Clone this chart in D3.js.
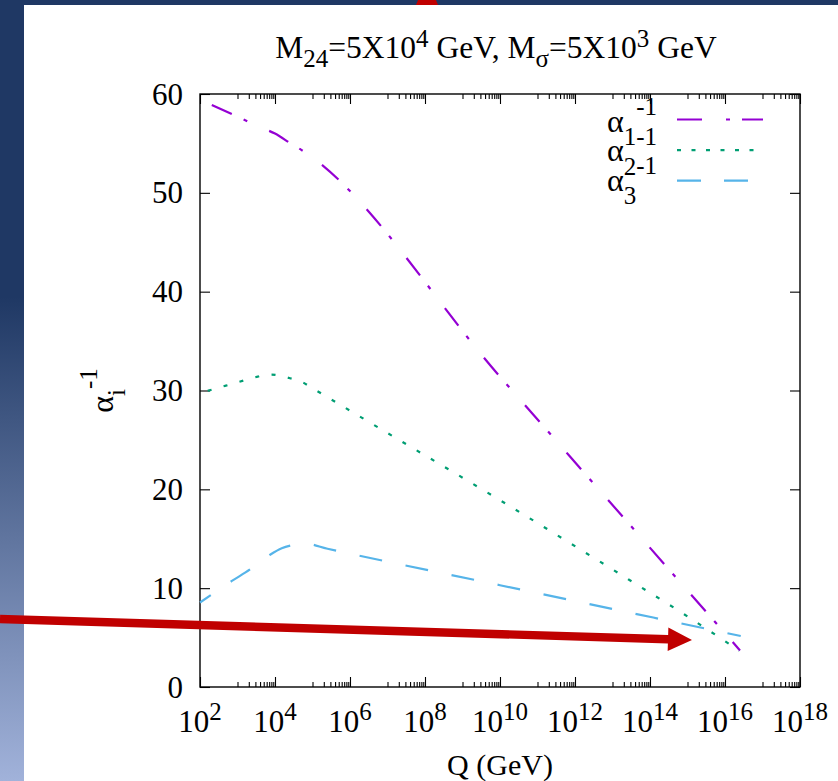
<!DOCTYPE html>
<html>
<head>
<meta charset="utf-8">
<script src="https://cdn.jsdelivr.net/npm/d3@7"></script>
<style>
  body { margin: 0; background: #fff; }
  svg { display: block; }
  text { font-family: "Liberation Serif", "Times New Roman", serif; fill: #000; }
</style>
</head>
<body>
<svg id="chart"></svg>
<script>
// Q is kept as its exponent: Q = 10^e GeV
const alpha1Exp = [2.0, 3.0, 3.7, 4.0, 4.44, 4.7, 10, 16.4];
const alpha1Inv = [59.45, 57.7, 56.5, 56.0, 54.94, 54.35, 31.4, 3.7];

const alpha2Exp = [2.0, 2.69, 3.54, 3.7, 3.9, 4.4, 4.7, 5.02, 6.91, 10, 13.42, 14.91, 16.38];
const alpha2Inv = [29.75, 30.49, 31.4, 31.55, 31.6, 31.24, 30.9, 30.18, 25.9, 18.9, 10.9, 7.36, 3.67];

const alpha3Exp = [2.0, 2.85, 3.36, 3.7, 3.89, 4.18, 4.5, 4.75, 5.4, 10, 16.42];
const alpha3Inv = [8.55, 10.73, 11.97, 12.95, 13.43, 14.03, 14.38, 14.54, 13.99, 10.3, 5.16];

const seriesIndex = ["1", "2", "3"];
const xTickExp = [2, 4, 6, 8, 10, 12, 14, 16, 18];
const yTicks = [0, 10, 20, 30, 40, 50, 60];

const width = 838, height = 781;
const plotL = 200, plotR = 800, plotT = 94, plotB = 687;

const svg = d3.select("#chart")
    .attr("width", width)
    .attr("height", height);

// slide background: navy strip on top, gradient strip on the left
const grad = svg.append("defs").append("linearGradient")
    .attr("id", "strip")
    .attr("x1", 0).attr("y1", 0).attr("x2", 0).attr("y2", 1);
grad.append("stop").attr("offset", 0).attr("stop-color", "#1f3864");
grad.append("stop").attr("offset", 0.38).attr("stop-color", "#1f3864");
grad.append("stop").attr("offset", 1).attr("stop-color", "#a1b2da");

svg.append("rect").attr("width", width).attr("height", height).attr("fill", "#fff");
svg.append("rect").attr("width", 24).attr("height", height).attr("fill", "url(#strip)");
svg.append("rect").attr("width", width).attr("height", 5).attr("fill", "#1f3864");
svg.append("path")
    .attr("d", "M418,0L436,0L438,5L416,5Z")
    .attr("fill", "#c00000");

const x = d3.scaleLog().domain([1e2, 1e18]).range([plotL, plotR]);
const y = d3.scaleLinear().domain([0, 60]).range([plotB, plotT]);

const majorX = xTickExp.map(e => Math.pow(10, e));
const minorX = [];
for (let e = 3; e < 18; e += 2) {
  for (let k = 1; k <= 9; k++) minorX.push(k * Math.pow(10, e));
}

function clean(g) {
  g.select(".domain").remove();
  g.selectAll(".tick line").attr("stroke", "#000").attr("stroke-width", 1.1);
  g.selectAll(".tick text").remove();
}

svg.append("g").attr("transform", `translate(0,${plotB})`)
    .call(d3.axisBottom(x).tickValues(majorX).tickSize(-10)).call(clean);
svg.append("g").attr("transform", `translate(0,${plotB})`)
    .call(d3.axisBottom(x).tickValues(minorX).tickSize(-5)).call(clean);
svg.append("g").attr("transform", `translate(0,${plotT})`)
    .call(d3.axisTop(x).tickValues(majorX).tickSize(-10)).call(clean);
svg.append("g").attr("transform", `translate(0,${plotT})`)
    .call(d3.axisTop(x).tickValues(minorX).tickSize(-5)).call(clean);
svg.append("g").attr("transform", `translate(${plotL},0)`)
    .call(d3.axisLeft(y).tickValues(yTicks).tickSize(-10)).call(clean);
svg.append("g").attr("transform", `translate(${plotR},0)`)
    .call(d3.axisRight(y).tickValues(yTicks).tickSize(-10)).call(clean);

svg.append("rect")
    .attr("x", plotL).attr("y", plotT)
    .attr("width", plotR - plotL).attr("height", plotB - plotT)
    .attr("fill", "none").attr("stroke", "#000").attr("stroke-width", 1.4);

// tick labels
svg.append("g").selectAll("text")
    .data(yTicks)
    .join("text")
    .attr("x", plotL - 17)
    .attr("y", d => y(d))
    .attr("dy", "0.34em")
    .attr("text-anchor", "end")
    .attr("font-size", 31)
    .text(d => d);

const xl = svg.append("g").selectAll("text")
    .data(xTickExp)
    .join("text")
    .attr("x", d => x(Math.pow(10, d)))
    .attr("y", 732)
    .attr("text-anchor", "middle")
    .attr("font-size", 31);
xl.append("tspan").text("10");
xl.append("tspan").attr("font-size", 25).attr("dy", -12).text(d => d);

svg.append("text")
    .attr("x", (plotL + plotR) / 2)
    .attr("y", 775)
    .attr("text-anchor", "middle")
    .attr("font-size", 30)
    .text("Q (GeV)");

// y label, rotated
const yl = svg.append("text")
    .attr("transform", `translate(113,${(plotT + plotB) / 2}) rotate(-90)`)
    .attr("text-anchor", "middle")
    .attr("font-size", 32);
yl.append("tspan").text("α");
yl.append("tspan").attr("font-size", 25).attr("dy", 12).text("i");
yl.append("tspan").attr("font-size", 25).attr("dy", -28).text("-1");

// title
const title = svg.append("text")
    .attr("x", 496)
    .attr("y", 57.5)
    .attr("text-anchor", "middle")
    .attr("font-size", 31.5);
title.append("tspan").text("M");
title.append("tspan").attr("font-size", 25).attr("dy", 9).text("24");
title.append("tspan").attr("dy", -9).text("=5X10");
title.append("tspan").attr("font-size", 25).attr("dy", -11).text("4");
title.append("tspan").attr("dy", 11).text(" GeV, M");
title.append("tspan").attr("font-size", 25).attr("dy", 9).text("σ");
title.append("tspan").attr("dy", -9).text("=5X10");
title.append("tspan").attr("font-size", 25).attr("dy", -11).text("3");
title.append("tspan").attr("dy", 11).text(" GeV");

// curves
const series = [
  {exp: alpha1Exp, val: alpha1Inv, color: "#9400d3", dash: "22,13,4,24", offset: -13, key: "25,24,4,12,25"},
  {exp: alpha2Exp, val: alpha2Inv, color: "#009e73", dash: "4,12.5", offset: -8, key: "4,10.5"},
  {exp: alpha3Exp, val: alpha3Inv, color: "#56b4e9", dash: "23,24", offset: 10, key: "24,23,24,30"}
];

const line = d3.line()
    .x(d => x(Math.pow(10, d[0])))
    .y(d => y(d[1]))
    .curve(d3.curveMonotoneX);

svg.append("g").selectAll("path")
    .data(series)
    .join("path")
    .attr("d", s => line(s.exp.map((e, i) => [e, s.val[i]])))
    .attr("fill", "none")
    .attr("stroke", s => s.color)
    .attr("stroke-width", 2.2)
    .attr("stroke-dasharray", s => s.dash)
    .attr("stroke-dashoffset", s => s.offset);

// legend
const legend = svg.append("g").selectAll("g")
    .data(series)
    .join("g");
legend.append("line")
    .attr("x1", 677).attr("x2", 763)
    .attr("y1", (s, i) => 119.5 + i * 30.6)
    .attr("y2", (s, i) => 119.5 + i * 30.6)
    .attr("stroke", s => s.color)
    .attr("stroke-width", 2.2)
    .attr("stroke-dasharray", s => s.key);
const lt = legend.append("text")
    .attr("x", 657)
    .attr("y", (s, i) => 131.5 + i * 29.5)
    .attr("text-anchor", "end")
    .attr("font-size", 32);
lt.append("tspan").text("α");
lt.append("tspan").attr("font-size", 25).attr("dy", 13.5).text((s, i) => seriesIndex[i]);
lt.append("tspan").attr("font-size", 25).attr("dy", -30).text("-1");

// red annotation arrow
const tail = [0, 619], tip = [692, 640];
const dx = tip[0] - tail[0], dy = tip[1] - tail[1];
const len = Math.hypot(dx, dy), ux = dx / len, uy = dy / len;
const nx = -uy, ny = ux;
const shaft = 4.2, head = 11.7, headLen = 24;
const bx = tip[0] - ux * headLen, by = tip[1] - uy * headLen;
const pts = [
  [tail[0] + nx * shaft, tail[1] + ny * shaft],
  [bx + nx * shaft, by + ny * shaft],
  [bx + nx * head, by + ny * head],
  tip,
  [bx - nx * head, by - ny * head],
  [bx - nx * shaft, by - ny * shaft],
  [tail[0] - nx * shaft, tail[1] - ny * shaft]
];
svg.append("path")
    .attr("d", d3.line()(pts) + "Z")
    .attr("fill", "#c00000");
</script>
</body>
</html>
